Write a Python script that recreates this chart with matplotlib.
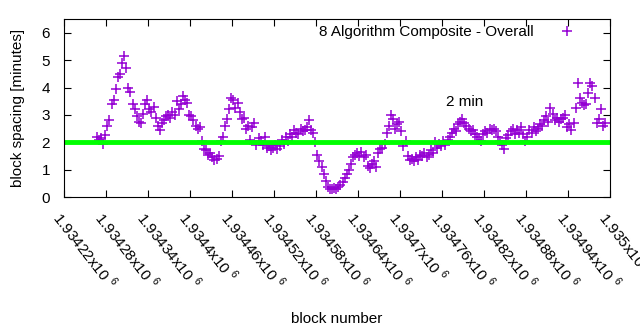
import numpy as np
import matplotlib
matplotlib.use("Agg")
import matplotlib.pyplot as plt

plt.rcParams['font.family'] = ['Liberation Sans', 'DejaVu Sans']
plt.rcParams['mathtext.fontset'] = 'custom'
plt.rcParams['mathtext.rm'] = 'Liberation Sans'

# block numbers (every 3rd block) and block spacing in minutes
blocks = np.arange(1934267, 1934994, 3)
spacing = [
    2.2, 2.1, 2.15, 1.95, 2.25, 2.6, 2.8,
    3.4, 3.55, 3.95, 4.4, 4.5, 4.9, 5.15,
    4.7, 4.0, 3.85, 3.4, 3.2, 2.95, 2.75,
    2.7, 3.05, 3.4, 3.55, 3.2, 3.1, 3.3,
    2.9, 2.6, 2.45, 2.7, 2.8, 2.95, 3.0,
    2.9, 3.1, 3.0, 3.5, 3.2, 3.4, 3.7,
    3.55, 3.45, 3.0, 2.95, 2.8, 2.6, 2.5,
    2.55, 2.05, 1.75, 1.7, 1.55, 1.6, 1.45,
    1.35, 1.4, 1.5, 2.05, 2.2, 2.6, 2.85,
    3.2, 3.6, 3.55, 3.25, 3.45, 3.1, 2.85,
    2.9, 2.5, 2.6, 2.1, 2.55, 2.7, 1.9,
    2.15, 2.05, 1.9, 2.2, 1.8, 1.85, 1.7,
    1.8, 1.9, 1.75, 1.85, 2.1, 1.95, 2.2,
    2.05, 2.3, 2.2, 2.45, 2.35, 2.3, 2.5,
    2.4, 2.45, 2.55, 2.8, 2.45, 2.35, 2.0,
    1.55, 1.3, 1.1, 0.85, 0.6, 0.35, 0.3,
    0.3, 0.32, 0.3, 0.35, 0.45, 0.55, 0.7,
    0.85, 1.0, 1.2, 1.45, 1.55, 1.6, 1.5,
    1.65, 1.45, 1.55, 1.15, 1.05, 1.2, 1.3,
    1.1, 1.6, 1.75, 1.8, 1.95, 2.35, 2.6,
    3.0, 2.85, 2.5, 2.65, 2.75, 2.4, 1.85,
    2.05, 1.5, 1.35, 1.4, 1.3, 1.45, 1.35,
    1.55, 1.5, 1.6, 1.45, 1.55, 1.7, 1.6,
    2.0, 1.8, 1.95, 1.85, 2.05, 1.9, 2.1,
    2.2, 2.35, 2.5, 2.4, 2.65, 2.75, 2.85,
    2.7, 2.6, 2.5, 2.4, 2.45, 2.3, 2.2,
    2.1, 2.05, 2.3, 2.4, 2.35, 2.5, 2.45,
    2.5, 2.4, 2.2, 2.05, 1.9, 1.75, 2.15,
    2.25, 2.4, 2.5, 2.3, 2.45, 2.35, 2.55,
    2.3, 2.05, 2.2, 2.45, 2.35, 2.55, 2.4,
    2.5, 2.65, 2.6, 2.8, 2.95, 2.75, 3.25,
    3.05, 2.8, 2.9, 2.75, 2.85, 2.9, 3.0,
    2.55, 2.65, 2.45, 2.7, 3.25, 4.15, 3.6,
    3.45, 3.35, 3.4, 3.8, 4.15, 4.05, 3.6,
    2.7, 2.85, 3.2, 2.6, 2.7,
]
target = 2.0
x_min, x_max = 1934220, 1935000
x_ticks = np.arange(1934220, 1935001, 60)
y_ticks = [0, 1, 2, 3, 4, 5, 6]

fig = plt.figure(figsize=(6.4, 3.3), dpi=100)
ax = fig.add_axes([0.1, 0.403, 0.853, 0.539])

ax.plot(blocks, spacing, linestyle='none', marker='+', markersize=7,
        markeredgewidth=1.1, color='#9400d3', label='8 Algorithm Composite - Overall')
ax.plot([x_min, x_max], [target, target], color='#00ff00', linewidth=3.5)
ax.text(1934766, 3.48, '2 min', fontsize=11, va='center', ha='left')

ax.set_xlim(x_min, x_max)
ax.set_ylim(0, 6.5)
ax.set_xticks(x_ticks)
ax.set_xticklabels(['%gx10 $^{6}$' % (v / 1e6) for v in x_ticks],
                   rotation=-52, ha='left', va='top', rotation_mode='anchor')
ax.set_yticks(y_ticks)
ax.tick_params(direction='in', top=True, right=True, labelsize=11, length=5)
ax.tick_params(axis='x', pad=8)
ax.tick_params(axis='y', pad=10)

ax.set_xlabel('block number', fontsize=11, labelpad=14)
ax.set_ylabel('block spacing [minutes]', fontsize=11, labelpad=12)

leg = ax.legend(loc='upper right', bbox_to_anchor=(0.947, 1.0), frameon=False,
                markerfirst=False, fontsize=11, handlelength=1.0,
                handletextpad=1.7, borderaxespad=0.0)

fig.savefig('out.png', dpi=100)
